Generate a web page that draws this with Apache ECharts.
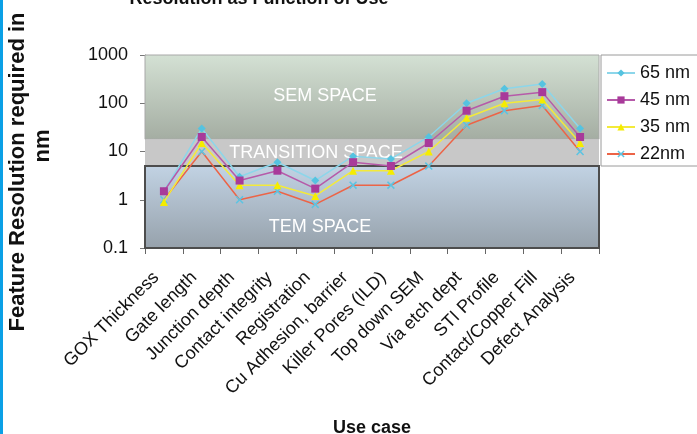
<!DOCTYPE html>
<html>
<head>
<meta charset="utf-8">
<script src="https://cdn.jsdelivr.net/npm/echarts@6/dist/echarts.min.js"></script>
<style>
  html, body { margin: 0; padding: 0; background: #ffffff; }
  #chart { width: 697px; height: 434px; }
</style>
</head>
<body>
<div id="chart"></div>
<script>
// Use cases along the x axis
const categories = [
  'GOX Thickness', 'Gate length', 'Junction depth', 'Contact integrity',
  'Registration', 'Cu Adhesion, barrier', 'Killer Pores (ILD)', 'Top down SEM',
  'Via etch dept', 'STI Profile', 'Contact/Copper Fill', 'Defect Analysis'
];

// Required feature resolution (nm) per technology node
const node65 = [1.5, 30, 3, 6, 2.5, 8, 7, 20, 100, 200, 250, 30];
const node45 = [1.5, 20, 2.5, 4, 1.7, 6, 5, 15, 70, 140, 170, 20];
const node35 = [0.9, 15, 2, 2, 1.2, 4, 4, 10, 50, 100, 120, 15];
const node22 = [1, 10, 1, 1.5, 0.8, 2, 2, 5, 35, 70, 90, 10];

// Imaging regimes on the resolution axis (nm)
const axisMin = 0.1;
const axisMax = 1000;
const temTop = 5;
const semBottom = 18;

const seriesNames = ['65 nm', '45 nm', '35 nm', '22nm'];
const font = 'Liberation Sans, Arial, sans-serif';

const chart = echarts.init(document.getElementById('chart'));

const xMark = 'path://M0,1.4L1.4,0L5,3.6L8.6,0L10,1.4L6.4,5L10,8.6L8.6,10L5,6.4L1.4,10L0,8.6L3.6,5Z';

function vGrad(top, bottom) {
  return new echarts.graphic.LinearGradient(0, 0, 0, 1, [
    { offset: 0, color: top }, { offset: 1, color: bottom }
  ]);
}

const bandLabel = (dx, dy) => ({
  show: true, position: 'inside', offset: [dx, dy],
  color: '#ffffff', fontSize: 18, fontFamily: font
});

const option = {
  animation: false,
  backgroundColor: '#ffffff',
  textStyle: { fontFamily: font },
  grid: { left: 145, right: 98, top: 55, bottom: 186, containLabel: false, outerBoundsMode: 'none' },
  legend: {
    orient: 'vertical', left: 601, top: 59, padding: 5,
    itemWidth: 28, itemHeight: 9, itemGap: 9,
    textStyle: { fontSize: 18, color: '#111', fontFamily: font },
    data: seriesNames
  },
  xAxis: {
    type: 'category', data: categories, boundaryGap: true,
    name: 'Use case', nameLocation: 'middle', nameGap: 171,
    nameTextStyle: { fontSize: 18, fontWeight: 'bold', color: '#111', fontFamily: font },
    axisLine: { show: true, lineStyle: { color: '#555', width: 1 } },
    axisTick: { show: true, alignWithLabel: false, length: 6, lineStyle: { color: '#666' } },
    axisLabel: { interval: 0, rotate: 45, fontSize: 18, color: '#111', margin: 19,
      padding: [0, 11, 0, 0], fontFamily: font },
    splitLine: { show: false }
  },
  yAxis: {
    type: 'log', logBase: 10, min: axisMin, max: axisMax,
    axisLine: { show: true, lineStyle: { color: '#777', width: 1 } },
    axisTick: { show: true, length: 5, lineStyle: { color: '#777' } },
    axisLabel: { fontSize: 18, color: '#111', margin: 17, fontFamily: font,
      formatter: v => String(+v.toPrecision(3)) },
    splitLine: { show: false }
  },
  graphic: [
    { type: 'rect', left: 0, top: 0, shape: { width: 3, height: 434 }, style: { fill: '#0aa0e6' }, z: 100 },
    { type: 'rect', shape: { x: 601, y: 55, width: 110, height: 111 },
      style: { fill: '#ffffff', stroke: '#9a9a9a', lineWidth: 1 }, z: -1 },
    { type: 'text', style: { text: 'Resolution as Function of Use', x: 259, y: 8,
      textAlign: 'center', textVerticalAlign: 'bottom',
      font: 'bold 18px ' + font, fill: '#111' } },
    { type: 'text', x: 18, y: 172, rotation: Math.PI / 2,
      style: { text: 'Feature Resolution required in', x: 0, y: 0,
        textAlign: 'center', textVerticalAlign: 'middle',
        font: 'bold 22px ' + font, fill: '#111' } },
    { type: 'text', x: 43, y: 146, rotation: Math.PI / 2,
      style: { text: 'nm', x: 0, y: 0,
        textAlign: 'center', textVerticalAlign: 'middle',
        font: 'bold 22px ' + font, fill: '#111' } }
  ],
  series: [
    {
      name: '65 nm', type: 'line', data: node65,
      symbol: 'diamond', symbolSize: 8, z: 5,
      lineStyle: { color: '#8cd6ea', width: 1.5 },
      itemStyle: { color: '#55c3e0' },
      markArea: {
        silent: true,
        data: [
          [ { yAxis: semBottom, itemStyle: { color: vGrad('#d4e1d4', '#a4ada2'), borderColor: '#a8a8a8', borderWidth: 1 },
              label: bandLabel(-47, -1), name: 'SEM SPACE' },
            { yAxis: axisMax } ],
          [ { yAxis: temTop, itemStyle: { color: '#c8c8c8' },
              label: bandLabel(-56, 0), name: 'TRANSITION SPACE' },
            { yAxis: semBottom } ],
          [ { yAxis: axisMin, itemStyle: { color: vGrad('#c2d3e4', '#96a1ab'), borderColor: '#4d4d4d', borderWidth: 2 },
              label: bandLabel(-52, 20), name: 'TEM SPACE' },
            { yAxis: temTop } ]
        ]
      }
    },
    {
      name: '45 nm', type: 'line', data: node45,
      symbol: 'rect', symbolSize: 8, z: 6,
      lineStyle: { color: '#b65aa9', width: 1.5 },
      itemStyle: { color: '#a83a9a' }
    },
    {
      name: '35 nm', type: 'line', data: node35,
      symbol: 'triangle', symbolSize: 8, z: 4,
      lineStyle: { color: '#f3ea3a', width: 1.5 },
      itemStyle: { color: '#f5ec00' }
    },
    {
      name: '22nm', type: 'line', data: node22,
      symbol: xMark, symbolSize: 8, z: 3,
      lineStyle: { color: '#ec6447', width: 1.5 },
      itemStyle: { color: '#5cc4e2' }
    }
  ]
};

chart.setOption(option);
</script>
</body>
</html>
